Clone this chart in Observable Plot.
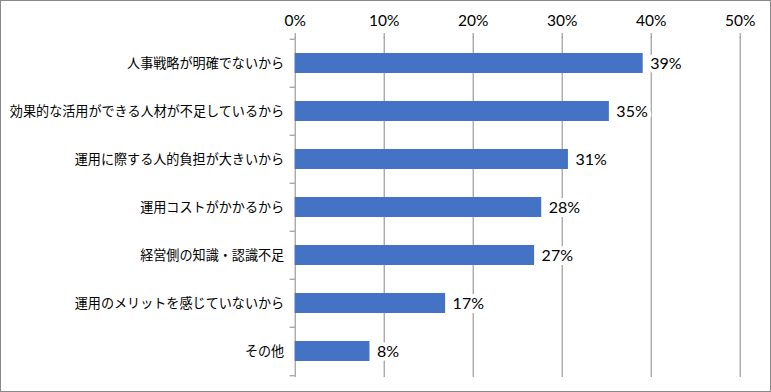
<!DOCTYPE html>
<html><head><meta charset="utf-8">
<script src="https://cdn.jsdelivr.net/npm/d3@7"></script>
<script src="https://cdn.jsdelivr.net/npm/@observablehq/plot@0.6"></script>
<style>
body{margin:0;background:#fff}
#wrap{position:relative;width:771px;height:392px}
#border{position:absolute;left:0;top:0;width:771px;height:392px;box-sizing:border-box;border:1px solid #898989;pointer-events:none}
svg{display:block}
</style></head><body><div id="wrap"><div id="border"></div></div>
<script>
const categories = [
  "人事戦略が明確でないから",
  "効果的な活用ができる人材が不足しているから",
  "運用に際する人的負担が大きいから",
  "運用コストがかかるから",
  "経営側の知識・認識不足",
  "運用のメリットを感じていないから",
  "その他"
];
const values = [39.1, 35.3, 30.7, 27.7, 26.9, 16.9, 8.4];
const valueLabels = ["39%", "35%", "31%", "28%", "27%", "17%", "8%"];
const xTicks = [0, 10, 20, 30, 40, 50];

const data = categories.map((c, i) => ({category: c, value: values[i], label: valueLabels[i]}));
const lastCategory = [categories[categories.length - 1]];

const gridColor = "#878787";
const half = 340 / 7 / 2;

const chart = Plot.plot({
  width: 771,
  height: 392,
  marginLeft: 294.7,
  marginRight: 31.3,
  marginTop: 37,
  marginBottom: 15,
  style: {background: "transparent", fontFamily: "'Noto Sans CJK JP', 'Noto Sans', sans-serif"},
  x: {domain: [0, 50], axis: null},
  y: {domain: categories, paddingInner: 0.59, paddingOuter: 0.295, axis: null},
  marks: [
    Plot.ruleX(xTicks, {stroke: gridColor, strokeWidth: 1}),
    Plot.axisX(xTicks, {anchor: "top", label: null, tickSize: 5, tickPadding: 7, stroke: gridColor, fill: "#000",
      tickFormat: d => d + "%", fontSize: 15.5, fontWeight: 400, fontFamily: "Lato, sans-serif"}),
    Plot.ruleY(categories, {y: d => d, x1: 0, x2: 0, insetLeft: -5, dy: -half, stroke: gridColor}),
    Plot.ruleY(lastCategory, {y: d => d, x1: 0, x2: 0, insetLeft: -5, dy: half, stroke: gridColor}),
    Plot.axisY(categories, {anchor: "left", label: null, tickSize: 0, tickPadding: 11, fill: "#000", fontSize: 13.1,
      fontWeight: 400, fontFamily: "'Noto Sans CJK JP', sans-serif"}),
    Plot.barX(data, {x: "value", y: "category", fill: "#4472C4"}),
    Plot.text(data, {x: "value", y: "category", text: "label", textAnchor: "start", dx: 7,
      fill: "#000", stroke: "white", strokeWidth: 8, paintOrder: "stroke",
      fontSize: 16, fontWeight: 400, fontFamily: "Lato, sans-serif"})
  ]
});
document.getElementById("wrap").prepend(chart);
</script>
</body></html>
